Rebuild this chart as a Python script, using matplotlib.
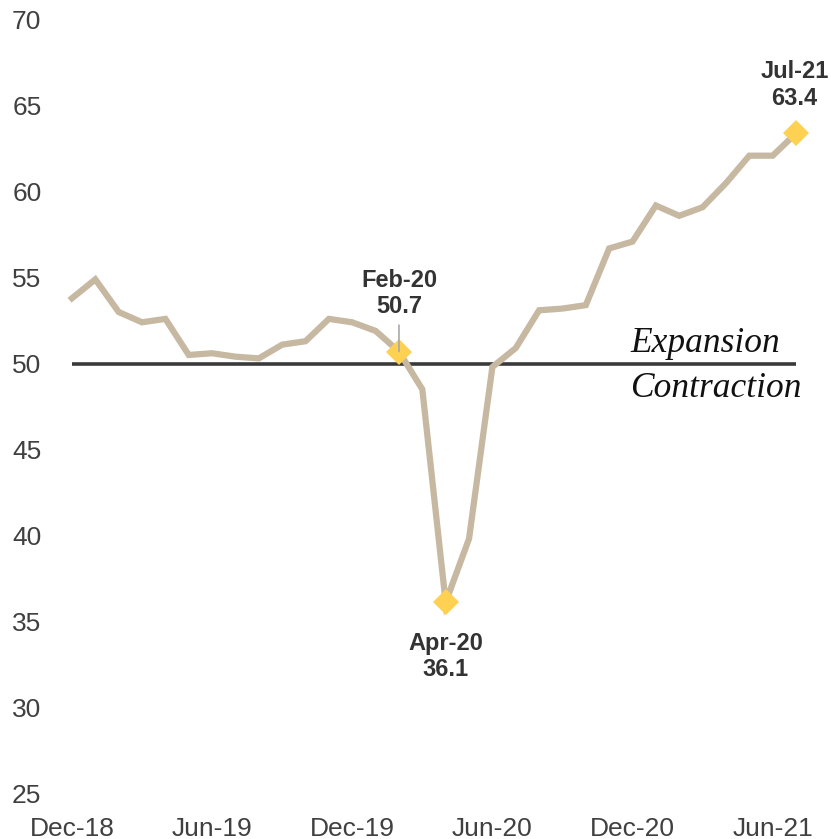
import matplotlib
matplotlib.use("Agg")
import matplotlib.pyplot as plt

# PMI manufacturing, monthly
months = ["Dec-18", "Jan-19", "Feb-19", "Mar-19", "Apr-19", "May-19", "Jun-19",
          "Jul-19", "Aug-19", "Sep-19", "Oct-19", "Nov-19", "Dec-19", "Jan-20",
          "Feb-20", "Mar-20", "Apr-20", "May-20", "Jun-20", "Jul-20", "Aug-20",
          "Sep-20", "Oct-20", "Nov-20", "Dec-20", "Jan-21", "Feb-21", "Mar-21",
          "Apr-21", "May-21", "Jun-21", "Jul-21"]
pmi = [53.8, 54.9, 53.0, 52.4, 52.6, 50.5, 50.6,
       50.4, 50.3, 51.1, 51.3, 52.6, 52.4, 51.9,
       50.7, 48.5, 36.1, 39.8, 49.8, 50.9, 53.1,
       53.2, 53.4, 56.7, 57.1, 59.2, 58.6, 59.1,
       60.5, 62.1, 62.1, 63.4]
tick_months = ["Dec-18", "Jun-19", "Dec-19", "Jun-20", "Dec-20", "Jun-21"]
y_ticks = [25, 30, 35, 40, 45, 50, 55, 60, 65, 70]
highlight_months = ["Feb-20", "Apr-20", "Jul-21"]
threshold = 50

plt.rcParams["font.family"] = ["Liberation Sans", "DejaVu Sans"]

fig = plt.figure(figsize=(8.31, 8.39), dpi=100)
ax = fig.add_axes([0.0866, 0.0548, 0.8713, 0.9214])

x = list(range(len(months)))

# linea 50 (expansion / contraction)
ax.plot([x[0], x[-1]], [threshold, threshold], color="#3a3a3a", lw=2.6,
        solid_capstyle="butt", zorder=2, clip_on=False)

ax.plot(x, pmi, color="#c7b8a2", lw=4.5, zorder=3, clip_on=False,
        solid_joinstyle="miter")

hx = [months.index(m) for m in highlight_months]
hy = [pmi[i] for i in hx]
ax.plot(hx, hy, linestyle="none", marker="D", ms=13.5, color="#ffd152",
        markeredgewidth=0, zorder=4, clip_on=False)

lab_kw = dict(fontsize=17, fontweight="bold", color="#333333", ha="center",
              textcoords="offset points", annotation_clip=False)
# Feb-20 con linea guia
ax.annotate(f"{highlight_months[0]}\n{hy[0]}", xy=(hx[0], hy[0]),
            xytext=(0, 24), va="bottom", zorder=5,
            arrowprops=dict(arrowstyle="-", color="#a8a8a8", lw=1.2,
                            shrinkA=3, shrinkB=0), **lab_kw)
ax.annotate(f"{highlight_months[1]}\n{hy[1]}", xy=(hx[1], hy[1]),
            xytext=(0, -21), va="top", **lab_kw)
ax.annotate(f"{highlight_months[2]}\n{hy[2]}", xy=(hx[2], hy[2]),
            xytext=(-1, 17), va="bottom", **lab_kw)

ax.text(23.9, 50.7, "Expansion", fontsize=25.5, style="italic",
        family="Liberation Serif", color="#111111", va="baseline", ha="left")
ax.text(23.9, 48.08, "Contraction", fontsize=25.5, style="italic",
        family="Liberation Serif", color="#111111", va="baseline", ha="left")

ax.set_xlim(0, len(months) - 1)
ax.set_ylim(25, 70)
ax.set_yticks(y_ticks)
ax.set_xticks([months.index(m) for m in tick_months])
ax.set_xticklabels(tick_months)
ax.tick_params(axis="y", length=0, pad=22, labelsize=19, labelcolor="#404040")
ax.tick_params(axis="x", length=0, pad=17, labelsize=19, labelcolor="#404040")
for s in ax.spines.values():
    s.set_visible(False)

fig.savefig("out.png", dpi=100)
